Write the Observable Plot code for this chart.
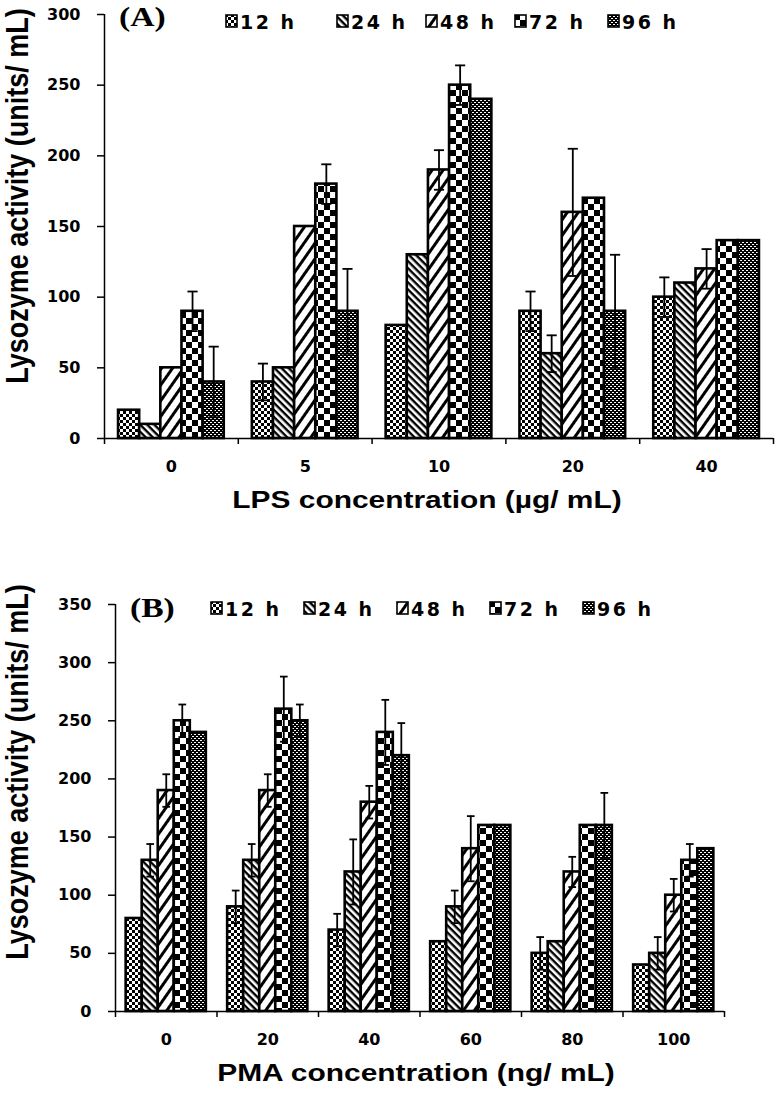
<!DOCTYPE html>
<html><head><meta charset="utf-8">
<script src="https://cdn.jsdelivr.net/npm/d3@7"></script>
<script src="https://cdn.jsdelivr.net/npm/@observablehq/plot@0.6"></script>
<style>
body{margin:0;background:#fff;}
#root{position:relative;width:777px;height:1097px;overflow:hidden;background:#fff;}
.abs{position:absolute;white-space:nowrap;line-height:1;}
.ylab{font-family:"Liberation Sans",Arial,sans-serif;font-weight:bold;font-size:27px;transform:translate(-50%,-50%) rotate(-90deg) scale(1,1.13);}
.xtitle{font-family:"Liberation Sans",Arial,sans-serif;font-weight:bold;font-size:23px;transform:translateX(-50%) scaleX(1.3);}
.panel{font-family:"Liberation Serif","Times New Roman",serif;font-weight:bold;font-size:28px;line-height:32px;transform-origin:left center;transform:scaleX(1.2);}
.legtxt{font-family:"DejaVu Sans",sans-serif;font-weight:bold;font-size:19px;letter-spacing:2.5px;line-height:19px;}
</style></head><body>
<svg width="0" height="0" style="position:absolute">
<defs>
<pattern id="p12" patternUnits="userSpaceOnUse" width="6" height="6"><rect width="6" height="6" fill="#fff"/><rect width="3" height="3" fill="#000"/><rect x="3" y="3" width="3" height="3" fill="#000"/></pattern>
<pattern id="p24" patternUnits="userSpaceOnUse" width="5" height="5" patternTransform="rotate(45)"><rect width="5" height="5" fill="#fff"/><rect width="5" height="2.4" fill="#000"/></pattern>
<pattern id="p48" patternUnits="userSpaceOnUse" width="9" height="9" patternTransform="rotate(-55)"><rect width="9" height="9" fill="#fff"/><rect width="9" height="3" fill="#000"/></pattern>
<pattern id="p72" patternUnits="userSpaceOnUse" width="12" height="12"><rect width="12" height="12" fill="#fff"/><rect width="6" height="6" fill="#000"/><rect x="6" y="6" width="6" height="6" fill="#000"/></pattern>
<pattern id="p96" patternUnits="userSpaceOnUse" width="4" height="4"><rect width="4" height="4" fill="#000"/><rect width="2" height="1" fill="#fff"/><rect x="2" y="2" width="2" height="1" fill="#fff"/></pattern>
</defs></svg>
<div id="root"></div>
<script>
// ---- data ----
const seriesNames = ["12 h", "24 h", "48 h", "72 h", "96 h"];
const patternIds = ["p12", "p24", "p48", "p72", "p96"];

const catsA = ["0", "5", "10", "20", "40"];
const a12 = [20, 40, 80, 90, 100];
const a24 = [10, 50, 130, 60, 110];
const a48 = [50, 150, 190, 160, 120];
const a72 = [90, 180, 250, 170, 140];
const a96 = [40, 90, 240, 90, 140];
const ea12 = [0, 13, 0, 14, 14];
const ea24 = [0, 0, 0, 13, 0];
const ea48 = [0, 0, 14, 45, 14];
const ea72 = [14, 14, 14, 0, 0];
const ea96 = [25, 30, 0, 40, 0];
const yTicksA = [0, 50, 100, 150, 200, 250, 300];

const catsB = ["0", "20", "40", "60", "80", "100"];
const b12 = [80, 90, 70, 60, 50, 40];
const b24 = [130, 130, 120, 90, 60, 50];
const b48 = [190, 190, 180, 140, 120, 100];
const b72 = [250, 260, 240, 160, 160, 130];
const b96 = [240, 250, 220, 160, 160, 140];
const eb12 = [0, 14, 14, 0, 14, 0];
const eb24 = [14, 14, 28, 14, 0, 14];
const eb48 = [14, 14, 14, 28, 13, 14];
const eb72 = [14, 28, 28, 0, 0, 14];
const eb96 = [0, 14, 28, 0, 28, 0];
const yTicksB = [0, 50, 100, 150, 200, 250, 300, 350];

const root = document.getElementById("root");

function panel(cfg) {
  const {cats, vals, errs, yTicks, height, mt, mb, ml, mr, top} = cfg;
  const n = cats.length, g = 0.79, bw = g / 5, pad = (1 - g) / 2;
  const rows = [];
  vals.forEach((arr, s) => arr.forEach((v, c) => rows.push({
    s, c, v, e: errs[s][c],
    x1: c + pad + s * bw, x2: c + pad + (s + 1) * bw, xm: c + pad + (s + 0.5) * bw
  })));
  const marks = [];
  seriesNames.forEach((name, s) => {
    marks.push(Plot.rect(rows.filter(d => d.s === s), {
      x1: "x1", x2: "x2", y1: () => 0, y2: "v",
      fill: `url(#${patternIds[s]})`, stroke: "black", strokeWidth: 2.6
    }));
  });
  const eb = rows.filter(d => d.e > 0);
  const cap = bw * 0.24;
  marks.push(Plot.ruleX(eb, {x: "xm", y1: d => d.v - d.e, y2: d => d.v + d.e, stroke: "black", strokeWidth: 1.8}));
  marks.push(Plot.link(eb, {x1: d => d.xm - cap, x2: d => d.xm + cap, y1: d => d.v + d.e, y2: d => d.v + d.e, stroke: "black", strokeWidth: 1.8}));
  marks.push(Plot.link(eb, {x1: d => d.xm - cap, x2: d => d.xm + cap, y1: d => d.v - d.e, y2: d => d.v - d.e, stroke: "black", strokeWidth: 1.8}));
  marks.push(Plot.ruleY([0], {stroke: "black", strokeWidth: 1.5}));
  marks.push(Plot.ruleX([0], {stroke: "black", strokeWidth: 1.5}));
  marks.push(Plot.axisY({ticks: yTicks, tickSize: 7, tickPadding: 17, tickFormat: d => String(d), label: null, strokeWidth: 1.5}));
  marks.push(Plot.axisX({ticks: d3.range(n + 1), tickSize: 6, tickFormat: () => "", label: null, strokeWidth: 1.5}));
  marks.push(Plot.axisX({ticks: d3.range(n).map(i => i + 0.5), tickSize: 0, tickPadding: 22, tickFormat: d => cats[Math.floor(d)], label: null}));
  const svg = Plot.plot({
    width: 777, height,
    marginTop: mt, marginBottom: mb, marginLeft: ml, marginRight: mr,
    x: {type: "linear", domain: [0, n], axis: null},
    y: {type: "linear", domain: [0, yTicks[yTicks.length - 1]], axis: null},
    style: {fontFamily: "DejaVu Sans", fontSize: "16px", fontWeight: "bold", color: "black", background: "transparent", overflow: "visible"},
    marks
  });
  svg.style.position = "absolute";
  svg.style.left = "0px";
  svg.style.top = top + "px";
  root.appendChild(svg);
}

panel({cats: catsA, vals: [a12, a24, a48, a72, a96], errs: [ea12, ea24, ea48, ea72, ea96], yTicks: yTicksA,
  height: 525, mt: 14, mb: 87, ml: 104, mr: 4, top: 0});
panel({cats: catsB, vals: [b12, b24, b48, b72, b96], errs: [eb12, eb24, eb48, eb72, eb96], yTicks: yTicksB,
  height: 557, mt: 64, mb: 86, ml: 115, mr: 53, top: 540});

function addText(cls, txt, left, top) {
  const d = document.createElement("div");
  d.className = "abs " + cls;
  d.textContent = txt;
  d.style.left = left + "px";
  d.style.top = top + "px";
  root.appendChild(d);
  return d;
}
function addLegend(xs, capTop) {
  seriesNames.forEach((name, s) => {
    const ns = "http://www.w3.org/2000/svg";
    const sv = document.createElementNS(ns, "svg");
    sv.setAttribute("width", 13); sv.setAttribute("height", 15);
    sv.style.position = "absolute";
    sv.style.left = xs[s] + "px"; sv.style.top = capTop + "px";
    const r = document.createElementNS(ns, "rect");
    r.setAttribute("x", 1); r.setAttribute("y", 1); r.setAttribute("width", 11); r.setAttribute("height", 12);
    r.setAttribute("fill", `url(#${patternIds[s]})`); r.setAttribute("stroke", "black"); r.setAttribute("stroke-width", 1.6);
    sv.appendChild(r);
    root.appendChild(sv);
    addText("legtxt", name, xs[s] + 15, capTop - 1.5);
  });
}

// y-axis titles
addText("ylab", "Lysozyme activity (units/  mL)", 18, 196);
addText("ylab", "Lysozyme activity (units/  mL)", 18, 772);
// x-axis titles
addText("xtitle", "LPS concentration (µg/ mL)", 427, 489);
addText("xtitle", "PMA concentration (ng/ mL)", 416, 1062);
// panel letters
addText("panel", "(A)", 119, 1);
addText("panel", "(B)", 130, 592);
// legends
addLegend([225, 336, 425, 514, 607], 14);
addLegend([210, 303, 396, 489, 582], 601);
</script>
</body></html>
